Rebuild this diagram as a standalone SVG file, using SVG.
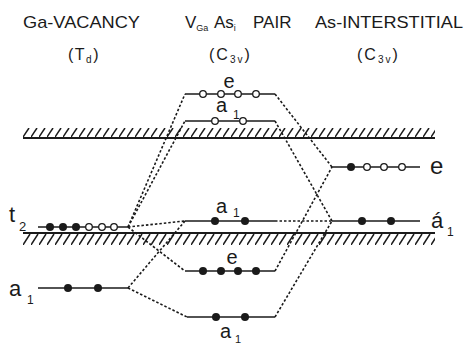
<svg xmlns="http://www.w3.org/2000/svg" width="465" height="344" viewBox="0 0 465 344">
<defs>
<style>
.t{font-family:"Liberation Sans",Arial,sans-serif;fill:#1a1a1a}
.lvl{stroke:#1a1a1a;stroke-width:1.6;fill:none}
.con{stroke:#1a1a1a;stroke-width:1.6;fill:none;stroke-dasharray:2.5 2}
.f{fill:#1a1a1a}
.o{fill:#fff;stroke:#1a1a1a;stroke-width:1.3}
.band{stroke:#1a1a1a;stroke-width:2}
</style>
<pattern id="h1" x="23" y="128" width="8" height="9" patternUnits="userSpaceOnUse"><line x1="0" y1="9" x2="6" y2="0" stroke="#1a1a1a" stroke-width="1.5"/></pattern>
<pattern id="h2" x="23" y="234" width="8" height="11" patternUnits="userSpaceOnUse"><line x1="0" y1="11" x2="7" y2="0" stroke="#1a1a1a" stroke-width="1.5"/></pattern>
</defs>
<rect width="465" height="344" fill="#fff"/>

<g id="headers">
<text class="t" x="23" y="28" font-size="17" textLength="117" lengthAdjust="spacingAndGlyphs">Ga-VACANCY</text>
<text class="t" x="68" y="60" font-size="16" letter-spacing="1.5">(T<tspan font-size="10" dy="3">d</tspan><tspan dy="-3">)</tspan></text>
<text class="t" x="185" y="28" font-size="17">V<tspan font-size="9" dy="3">Ga</tspan><tspan dy="-3" x="214">As</tspan><tspan font-size="9" dy="3">i</tspan><tspan dy="-3" x="253">PAIR</tspan></text>
<text class="t" x="209" y="60" font-size="16" letter-spacing="2">(C<tspan font-size="10" dy="3">3v</tspan><tspan dy="-3">)</tspan></text>
<text class="t" x="315" y="28" font-size="17" textLength="148" lengthAdjust="spacingAndGlyphs">As-INTERSTITIAL</text>
<text class="t" x="357" y="60" font-size="16" letter-spacing="2">(C<tspan font-size="10" dy="3">3v</tspan><tspan dy="-3">)</tspan></text>
</g>

<g id="bands">
<rect x="23" y="128" width="412" height="9" fill="url(#h1)"/>
<line class="band" x1="23" y1="138" x2="435" y2="138"/>
<line class="band" x1="23" y1="233" x2="435" y2="233"/>
<rect x="23" y="234" width="412" height="11" fill="url(#h2)"/>
</g>

<g id="connectors">
<line class="con" x1="128" y1="227" x2="185" y2="94"/>
<line class="con" x1="128" y1="227" x2="185" y2="121"/>
<line class="con" x1="128" y1="227" x2="185" y2="221"/>
<line class="con" x1="128" y1="227" x2="185" y2="271"/>
<line class="con" x1="128" y1="288" x2="185" y2="221"/>
<line class="con" x1="128" y1="288" x2="187" y2="317"/>
<line class="con" x1="275" y1="94" x2="332" y2="167"/>
<line class="con" x1="275" y1="121" x2="332" y2="221"/>
<line class="con" x1="275" y1="271" x2="332" y2="167"/>
<line class="con" x1="275" y1="317" x2="332" y2="221"/>
<line class="con" x1="275" y1="221" x2="332" y2="221"/>
</g>

<g id="vac-t2">
<line class="lvl" x1="38" y1="227" x2="128" y2="227"/>
<circle class="f" cx="50" cy="227" r="4"/><circle class="f" cx="63" cy="227" r="4"/><circle class="f" cx="76" cy="227" r="4"/>
<circle class="o" cx="89" cy="227" r="3.3"/><circle class="o" cx="102" cy="227" r="3.3"/><circle class="o" cx="114" cy="227" r="3.3"/>
<text class="t" x="9" y="222" font-size="22">t</text><text class="t" x="19" y="231" font-size="13">2</text>
</g>

<g id="vac-a1">
<line class="lvl" x1="38" y1="288" x2="128" y2="288"/>
<circle class="f" cx="68" cy="288" r="4"/><circle class="f" cx="98" cy="288" r="4"/>
<text class="t" x="9" y="296" font-size="22">a</text><text class="t" x="27" y="304" font-size="12">1</text>
</g>

<g id="pair-e-up">
<line class="lvl" x1="185" y1="94" x2="275" y2="94"/>
<circle class="o" cx="203" cy="94" r="3.3"/><circle class="o" cx="221" cy="94" r="3.3"/><circle class="o" cx="238" cy="94" r="3.3"/><circle class="o" cx="256" cy="94" r="3.3"/>
<text class="t" x="229" y="88" font-size="20" text-anchor="middle">e</text>
</g>

<g id="pair-a1-up">
<line class="lvl" x1="185" y1="121" x2="275" y2="121"/>
<circle class="o" cx="215" cy="121" r="3.3"/><circle class="o" cx="243" cy="121" r="3.3"/>
<text class="t" x="216" y="112" font-size="20">a</text><text class="t" x="233" y="119" font-size="12">1</text>
</g>

<g id="pair-a1-mid">
<line class="lvl" x1="185" y1="221" x2="275" y2="221"/>
<circle class="f" cx="215" cy="221" r="4"/><circle class="f" cx="245" cy="221" r="4"/>
<text class="t" x="216" y="213" font-size="20">a</text><text class="t" x="233" y="217" font-size="12">1</text>
</g>

<g id="pair-e-low">
<line class="lvl" x1="185" y1="271" x2="275" y2="271"/>
<circle class="f" cx="203" cy="271" r="4"/><circle class="f" cx="221" cy="271" r="4"/><circle class="f" cx="238" cy="271" r="4"/><circle class="f" cx="256" cy="271" r="4"/>
<text class="t" x="232" y="264" font-size="20" text-anchor="middle">e</text>
</g>

<g id="pair-a1-low">
<line class="lvl" x1="187" y1="317" x2="275" y2="317"/>
<circle class="f" cx="216" cy="317" r="4"/><circle class="f" cx="245" cy="317" r="4"/>
<text class="t" x="220" y="338" font-size="20">a</text><text class="t" x="235" y="343" font-size="11">1</text>
</g>

<g id="int-e">
<line class="lvl" x1="332" y1="167" x2="420" y2="167"/>
<circle class="f" cx="351" cy="167" r="4"/>
<circle class="o" cx="367" cy="167" r="3.3"/><circle class="o" cx="384" cy="167" r="3.3"/><circle class="o" cx="402" cy="167" r="3.3"/>
<text class="t" x="430" y="174" font-size="24">e</text>
</g>

<g id="int-a1">
<line class="lvl" x1="332" y1="221" x2="420" y2="221"/>
<circle class="f" cx="362" cy="221" r="4"/><circle class="f" cx="391" cy="221" r="4"/>
<text class="t" x="431" y="228" font-size="22">á</text><text class="t" x="447" y="236" font-size="12">1</text>
</g>
</svg>
